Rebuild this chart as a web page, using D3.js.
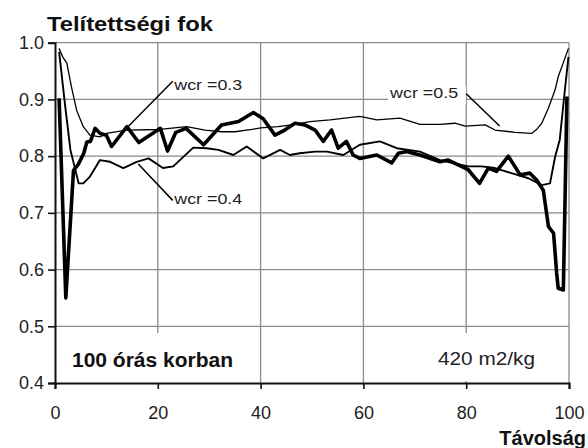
<!DOCTYPE html>
<html>
<head>
<meta charset="utf-8">
<script src="https://cdnjs.cloudflare.com/ajax/libs/d3/7.8.5/d3.min.js"></script>
<style>
  body { margin: 0; background: #fff; }
  text { font-family: Arial, "Liberation Sans", sans-serif; }
</style>
</head>
<body>
<svg id="chart"></svg>
<script>
// chart values
let xTicks = [0, 20, 40, 60, 80, 100]
let yTicks = [0.4, 0.5, 0.6, 0.7, 0.8, 0.9, 1.0]

// wcr = 0.3 (thick line)
let dist03 = [0.8,2.1,3.6,4.5,5.6,6.2,6.9,7.8,8.8,10,11,14,16.3,20.5,21.9,23.5,25.5,28.9,32.4,35.7,38.6,40.5,42.8,44.7,46.7,48.6,50.6,52.2,53.8,55.1,56.7,58,59.3,62.6,65.5,66.8,68.4,71,74.9,76.5,80.4,82.6,84.3,85.9,88.2,90.5,92.4,93.7,95,96,97,97.6,97.9,98.9,99.6]
let sat03 = [0.902,0.55,0.775,0.785,0.805,0.825,0.826,0.849,0.84,0.837,0.817,0.852,0.824,0.849,0.809,0.842,0.849,0.82,0.855,0.861,0.877,0.866,0.837,0.846,0.858,0.855,0.846,0.826,0.846,0.814,0.826,0.802,0.796,0.802,0.788,0.805,0.808,0.802,0.79,0.793,0.776,0.752,0.779,0.773,0.8,0.767,0.77,0.758,0.74,0.676,0.664,0.594,0.567,0.564,0.905]

// wcr = 0.4 (medium line)
let dist04 = [0.8,2,3,4.6,5.5,6.8,8.75,10.7,13.3,15.9,18.2,21,23,26.9,29.5,31.8,34.7,37.3,40.5,43.8,45.7,47.6,50.6,52.9,56.1,59.3,63.2,66.5,71,74.9,77.2,80.4,83,85.6,88.8,92.1,94.7,96.3,97.3,98.2,99.2,99.9]
let sat04 = [0.984,0.887,0.811,0.752,0.752,0.764,0.793,0.79,0.779,0.79,0.796,0.779,0.782,0.815,0.814,0.811,0.802,0.817,0.796,0.811,0.802,0.805,0.808,0.808,0.802,0.82,0.826,0.814,0.808,0.793,0.788,0.782,0.782,0.779,0.77,0.761,0.749,0.752,0.799,0.829,0.917,0.975]

// wcr = 0.5 (thin line)
let dist05 = [0.8,1.5,2.3,3.2,4.2,5.5,6.8,8.75,10,13.9,20.4,25.6,29.2,32.4,35,38.3,40,43.4,46,49.6,53.5,59.3,62.6,67.1,71,74.9,77.8,79.8,83.7,85.6,89.5,92.7,93.8,94.7,96,97.3,97.9,99.9]
let sat05 = [0.99,0.975,0.964,0.922,0.881,0.852,0.837,0.834,0.84,0.846,0.847,0.852,0.846,0.843,0.843,0.847,0.85,0.852,0.855,0.861,0.864,0.87,0.864,0.867,0.856,0.856,0.858,0.853,0.855,0.846,0.842,0.84,0.848,0.858,0.885,0.917,0.94,0.99]

// labels: text, label anchor (data units), pointer ends (data units)
let labelNames = ['wcr =0.3', 'wcr =0.4', 'wcr =0.5']
let labelAt = [[23.2, 0.917], [23.2, 0.715], [65.2, 0.902]]
let lineFrom = [[22.9, 0.932], [22.9, 0.722], [80, 0.91]]
let lineTo = [[14.1, 0.851], [16.2, 0.786], [86.5, 0.853]]

//Dimensions
let width = 588
let height = 448
let plotLeft = 55, plotRight = 569, plotTop = 42.7, plotBottom = 383

let svg = d3.select('#chart')
            .attr('width', width)
            .attr('height', height)

let x = d3.scaleLinear().domain([0, 100]).range([plotLeft, plotRight])
let y = d3.scaleLinear().domain([0.4, 1.0]).range([plotBottom, plotTop])

// grid
svg.append('g')
    .selectAll('line')
    .data(xTicks.slice(1))
    .enter()
    .append('line')
    .attr('x1', d => x(d)).attr('x2', d => x(d))
    .attr('y1', plotTop).attr('y2', plotBottom)
    .attr('stroke', '#8a8a8a').attr('stroke-width', 1.3)

svg.append('g')
    .selectAll('line')
    .data(yTicks.slice(1))
    .enter()
    .append('line')
    .attr('x1', plotLeft).attr('x2', plotRight)
    .attr('y1', d => y(d)).attr('y2', d => y(d))
    .attr('stroke', '#8a8a8a').attr('stroke-width', 1.3)

// white boxes behind the notes
let boxes = [[70, 333, 180, 50], [432, 333, 108, 48], [388, 86, 78, 18]]
svg.append('g')
    .selectAll('rect')
    .data(boxes)
    .enter()
    .append('rect')
    .attr('x', d => d[0]).attr('y', d => d[1])
    .attr('width', d => d[2]).attr('height', d => d[3])
    .attr('fill', '#fff')

// axes
let yAxis = d3.axisLeft(y).tickValues(yTicks).tickFormat(d3.format('.1f')).tickSize(7).tickPadding(4)
let xAxis = d3.axisBottom(x).tickValues(xTicks).tickSize(6).tickPadding(17)

let gy = svg.append('g').attr('transform', `translate(${plotLeft},0)`).call(yAxis)
let gx = svg.append('g').attr('transform', `translate(0,${plotBottom})`).call(xAxis)

for (let g of [gx, gy]) {
    g.select('.domain').attr('stroke', '#111').attr('stroke-width', 2)
    g.selectAll('.tick line').attr('stroke', '#111').attr('stroke-width', 1.6)
    g.selectAll('.tick text')
        .attr('fill', '#222')
        .style('font-size', '18px')
        .style('font-family', 'Arial, "Liberation Sans", sans-serif')
}

// series
let line = d3.line().x(d => x(d[0])).y(d => y(d[1]))

let series = [
    { xs: dist05, ys: sat05, w: 1.3 },
    { xs: dist04, ys: sat04, w: 1.9 },
    { xs: dist03, ys: sat03, w: 3.6 }
]

series.forEach(s => {
    svg.append('path')
        .datum(d3.zip(s.xs, s.ys))
        .attr('d', line)
        .attr('fill', 'none')
        .attr('stroke', '#000')
        .attr('stroke-width', s.w)
        .attr('stroke-linejoin', 'round')
})

// label pointers
svg.append('g')
    .selectAll('line')
    .data(labelNames)
    .enter()
    .append('line')
    .attr('x1', (d, i) => x(lineFrom[i][0])).attr('y1', (d, i) => y(lineFrom[i][1]))
    .attr('x2', (d, i) => x(lineTo[i][0])).attr('y2', (d, i) => y(lineTo[i][1]))
    .attr('stroke', '#000').attr('stroke-width', 1.5)

svg.append('g')
    .selectAll('text')
    .data(labelNames)
    .enter()
    .append('text')
    .attr('x', (d, i) => x(labelAt[i][0]))
    .attr('y', (d, i) => y(labelAt[i][1]))
    .attr('textLength', 68)
    .attr('lengthAdjust', 'spacingAndGlyphs')
    .style('font-size', '14px')
    .attr('fill', '#222')
    .text(d => d)

// titles and notes
svg.append('text').attr('x', 47).attr('y', 31)
    .style('font-size', '21px').style('font-weight', 'bold').attr('fill', '#111')
    .attr('textLength', 166).attr('lengthAdjust', 'spacingAndGlyphs')
    .text('Telítettségi fok')

svg.append('text').attr('x', 586).attr('y', 445)
    .attr('text-anchor', 'end')
    .style('font-size', '20px').style('font-weight', 'bold').attr('fill', '#111')
    .text('Távolság')

svg.append('text').attr('x', 72).attr('y', 367)
    .style('font-size', '20px').style('font-weight', 'bold').attr('fill', '#111')
    .attr('textLength', 161).attr('lengthAdjust', 'spacingAndGlyphs')
    .text('100 órás korban')

svg.append('text').attr('x', 438).attr('y', 365)
    .style('font-size', '19px').attr('fill', '#222')
    .attr('textLength', 97).attr('lengthAdjust', 'spacingAndGlyphs')
    .text('420 m2/kg')
</script>
</body>
</html>
